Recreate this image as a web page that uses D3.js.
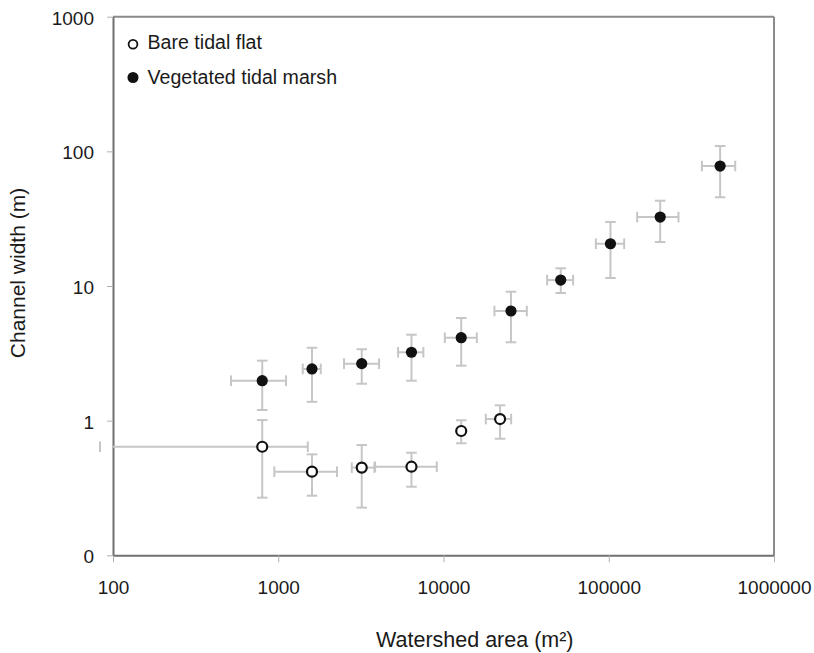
<!DOCTYPE html>
<html>
<head>
<meta charset="utf-8">
<script src="https://cdn.jsdelivr.net/npm/d3@7"></script>
<style>
  html, body { margin: 0; padding: 0; background: #fff; }
  svg { display: block; font-family: "Liberation Sans", Arial, sans-serif; }
</style>
</head>
<body>
<svg id="chart" width="814" height="653"></svg>
<script>
// ---- data ----
const xTicks = [100, 1000, 10000, 100000, 1000000];
const xTickLabels = ["100", "1000", "10000", "100000", "1000000"];
const yTicks = [0.1, 1, 10, 100, 1000];
const yTickLabels = ["0", "1", "10", "100", "1000"];

// Vegetated tidal marsh
const vegX    = [800, 1600, 3200, 6400, 12800, 25600, 51200, 102400, 204800, 472000];
const vegXlo  = [518, 1407, 2500, 5312, 10185, 20330, 42370, 83570, 148600, 366100];
const vegXhi  = [1115, 1808, 4075, 7555, 15910, 31930, 60870, 124000, 264200, 582500];
const vegY    = [1.98, 2.42, 2.65, 3.22, 4.13, 6.52, 11.07, 20.6, 32.5, 77.8];
const vegYlo  = [1.20, 1.38, 1.88, 1.98, 2.56, 3.82, 8.87, 11.46, 21.2, 45.6];
const vegYhi  = [2.79, 3.48, 3.39, 4.35, 5.79, 9.07, 13.53, 29.9, 43.0, 109.6];

// Bare tidal flat
const bareX   = [800, 1600, 3200, 6400, 12800, 22000];
const bareXlo = [83.4, 947, 2786, 3855, null, 18030];
const bareXhi = [1509, 2268, 3818, 9110, null, 25660];
const bareY   = [0.640, 0.418, 0.448, 0.455, 0.838, 1.028];
const bareYlo = [0.268, 0.277, 0.226, 0.323, 0.679, 0.734];
const bareYhi = [1.01, 0.562, 0.659, 0.578, 1.007, 1.30];

const seriesNames = ["Bare tidal flat", "Vegetated tidal marsh"];
const xTitle = "Watershed area (m²)";
const yTitle = "Channel width (m)";

// ---- layout ----
const L = 113, R = 774, T = 16.7, B = 555.3;
const svg = d3.select("#chart");
const x = d3.scaleLog().domain([100, 1000000]).range([L, R]);
const y = d3.scaleLog().domain([0.1, 1000]).range([B, T]);

const errColor = "#c6c6c6";
const capHalf = 5.3;

// frame top/right
svg.append("line").attr("x1", L).attr("x2", R).attr("y1", T).attr("y2", T)
  .attr("stroke", "#8a8a8a").attr("stroke-width", 2);
svg.append("line").attr("x1", R).attr("x2", R).attr("y1", T).attr("y2", B)
  .attr("stroke", "#8a8a8a").attr("stroke-width", 2);

// axes
const xAxis = d3.axisBottom(x).tickValues(xTicks)
  .tickFormat((d, i) => xTickLabels[i]).tickSizeInner(7).tickSizeOuter(0).tickPadding(18);
const gx = svg.append("g").attr("transform", `translate(0,${B})`).call(xAxis);
gx.select(".domain").attr("stroke", "#707070").attr("stroke-width", 2);
gx.selectAll(".tick line").attr("stroke", "#b0b0b0").attr("stroke-width", 1);
gx.selectAll(".tick text").attr("font-size", "19px").attr("fill", "#1a1a1a")
  .attr("font-family", "'Liberation Sans', Arial, sans-serif");

const yAxis = d3.axisLeft(y).tickValues(yTicks)
  .tickFormat((d, i) => yTickLabels[i]).tickSizeInner(6).tickSizeOuter(0).tickPadding(13);
const gy = svg.append("g").attr("transform", `translate(${L},0)`).call(yAxis);
gy.select(".domain").attr("stroke", "#707070").attr("stroke-width", 2);
gy.selectAll(".tick line").attr("stroke", "#b0b0b0").attr("stroke-width", 1);
gy.selectAll(".tick text").attr("font-size", "19px").attr("fill", "#1a1a1a")
  .attr("dy", "0.4em")
  .attr("font-family", "'Liberation Sans', Arial, sans-serif");

// error bars
function drawErr(xs, xlo, xhi, ys, ylo, yhi) {
  const g = svg.append("g").attr("stroke", errColor).attr("stroke-width", 2).attr("fill", "none");
  xs.forEach((xv, i) => {
    const cx = x(xv), cy = y(ys[i]);
    // vertical
    g.append("line").attr("x1", cx).attr("x2", cx).attr("y1", y(ylo[i])).attr("y2", y(yhi[i]));
    g.append("line").attr("x1", cx - capHalf).attr("x2", cx + capHalf).attr("y1", y(ylo[i])).attr("y2", y(ylo[i]));
    g.append("line").attr("x1", cx - capHalf).attr("x2", cx + capHalf).attr("y1", y(yhi[i])).attr("y2", y(yhi[i]));
    // horizontal
    if (xlo[i] != null) {
      const x0 = x(xlo[i]), x1 = x(xhi[i]);
      g.append("line").attr("x1", Math.max(x0, L)).attr("x2", x1).attr("y1", cy).attr("y2", cy);
      g.append("line").attr("x1", x0).attr("x2", x0).attr("y1", cy - capHalf).attr("y2", cy + capHalf);
      g.append("line").attr("x1", x1).attr("x2", x1).attr("y1", cy - capHalf).attr("y2", cy + capHalf);
    }
  });
}
drawErr(vegX, vegXlo, vegXhi, vegY, vegYlo, vegYhi);
drawErr(bareX, bareXlo, bareXhi, bareY, bareYlo, bareYhi);

// markers
svg.append("g").selectAll("circle").data(vegX).join("circle")
  .attr("cx", d => x(d)).attr("cy", (d, i) => y(vegY[i])).attr("r", 5.6)
  .attr("fill", "#111");
svg.append("g").selectAll("circle").data(bareX).join("circle")
  .attr("cx", d => x(d)).attr("cy", (d, i) => y(bareY[i])).attr("r", 5)
  .attr("fill", "#fff").attr("stroke", "#111").attr("stroke-width", 2.2);

// legend
const lg = svg.append("g");
lg.append("circle").attr("cx", 133).attr("cy", 44.3).attr("r", 4.4)
  .attr("fill", "#fff").attr("stroke", "#111").attr("stroke-width", 1.8);
lg.append("text").attr("x", 147.5).attr("y", 49.3).attr("font-size", "19.6px")
  .attr("fill", "#1a1a1a").text(seriesNames[0]);
lg.append("circle").attr("cx", 133).attr("cy", 77.5).attr("r", 5.5).attr("fill", "#111");
lg.append("text").attr("x", 147.5).attr("y", 84.3).attr("font-size", "19.6px")
  .attr("fill", "#1a1a1a").text(seriesNames[1]);

// axis titles
svg.append("text").attr("x", 376).attr("y", 646.5).attr("font-size", "21.5px")
  .attr("fill", "#1a1a1a").text(xTitle);
svg.append("text").attr("transform", "translate(25,273) rotate(-90)")
  .attr("text-anchor", "middle").attr("font-size", "21px")
  .attr("fill", "#1a1a1a").text(yTitle);
</script>
</body>
</html>
